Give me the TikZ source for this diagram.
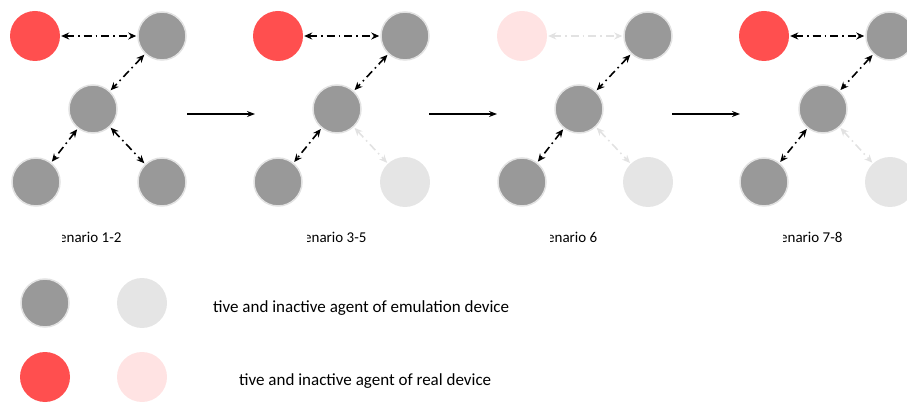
\documentclass[tikz,border=0pt]{standalone}
\usepackage{fontspec}
\setmainfont{Carlito}
\usetikzlibrary{arrows.meta}
\definecolor{emugray}{HTML}{999999}
\definecolor{ringgray}{HTML}{E2E2E2}
\definecolor{offgray}{HTML}{E5E5E5}
\definecolor{realred}{HTML}{FF4F4F}
\definecolor{offred}{HTML}{FFE3E3}
\tikzset{
    emu/.style={circle,fill=emugray,draw=ringgray,line width=1.5pt,minimum size=48pt,inner sep=0pt},
    emuoff/.style={circle,fill=offgray,minimum size=50pt,inner sep=0pt},
    real/.style={circle,fill=realred,minimum size=50pt,inner sep=0pt},
    realoff/.style={circle,fill=offred,minimum size=50pt,inner sep=0pt},
    link/.style={{Stealth[length=8pt,width=7pt]}-{Stealth[length=8pt,width=7pt]},line width=1.6pt,
        dash pattern=on 8pt off 4pt on 1.6pt off 4pt,shorten >=1pt,shorten <=1pt},
    linkoff/.style={link,draw=ringgray},
    step arrow/.style={-{Stealth[length=8pt,width=6pt]},line width=1.3pt},
    lbl/.style={font=\fontsize{15}{17}\selectfont,inner sep=0pt},
    legtext/.style={font=\fontsize{17}{20}\selectfont,inner sep=0pt}
}
\begin{document}
\begin{tikzpicture}[x=1pt,y=-1pt]
    \clip (0,0) rectangle (907,403);
    % scenario 1-2
    \node[real] (s1red) at (35,36) {};
    \node[emu] (s1top) at (162,36) {};
    \node[emu] (s1mid) at (93,109) {};
    \node[emu] (s1bl) at (36,182) {};
    \node[emu] (s1br) at (162,182) {};
    \draw[link] (s1red)--(s1top);
    \draw[link] (s1top)--(s1mid);
    \draw[link] (s1mid)--(s1bl);
    \draw[link] (s1mid)--(s1br);
    % scenario 3-5
    \node[real] (s2red) at (278,36) {};
    \node[emu] (s2top) at (405,36) {};
    \node[emu] (s2mid) at (337,109) {};
    \node[emu] (s2bl) at (278,182) {};
    \node[emuoff] (s2br) at (405,182) {};
    \draw[link] (s2red)--(s2top);
    \draw[link] (s2top)--(s2mid);
    \draw[link] (s2mid)--(s2bl);
    \draw[linkoff] (s2mid)--(s2br);
    % scenario 6
    \node[realoff] (s3red) at (522,36) {};
    \node[emu] (s3top) at (648,36) {};
    \node[emu] (s3mid) at (579,109) {};
    \node[emu] (s3bl) at (522,182) {};
    \node[emuoff] (s3br) at (648,182) {};
    \draw[linkoff] (s3red)--(s3top);
    \draw[link] (s3top)--(s3mid);
    \draw[link] (s3mid)--(s3bl);
    \draw[linkoff] (s3mid)--(s3br);
    % scenario 7-8
    \node[real] (s4red) at (764,36) {};
    \node[emu] (s4top) at (890,36) {};
    \node[emu] (s4mid) at (823,109) {};
    \node[emu] (s4bl) at (764,182) {};
    \node[emuoff] (s4br) at (890,182) {};
    \draw[link] (s4red)--(s4top);
    \draw[link] (s4top)--(s4mid);
    \draw[link] (s4mid)--(s4bl);
    \draw[linkoff] (s4mid)--(s4br);
    % arrows between scenarios
    \coordinate (a1s) at (187,114); \coordinate (a1e) at (255,114);
    \coordinate (a2s) at (429,114); \coordinate (a2e) at (497,114);
    \coordinate (a3s) at (672,114); \coordinate (a3e) at (740,114);
    \draw[step arrow] (a1s)--(a1e);
    \draw[step arrow] (a2s)--(a2e);
    \draw[step arrow] (a3s)--(a3e);
    % labels
    \begin{scope}
        \clip (62,220) rectangle (200,255) (307,220) rectangle (450,255)
              (550,220) rectangle (700,255) (783,220) rectangle (907,255);
        \node[lbl,anchor=base west] (lab1) at (59,243) {enario 1-2};
        \node[lbl,anchor=base west] (lab2) at (304,243) {enario 3-5};
        \node[lbl,anchor=base west] (lab3) at (547,243) {enario 6};
        \node[lbl,anchor=base west] (lab4) at (780,243) {enario 7-8};
    \end{scope}
    % legend
    \node[emu] (legemu) at (45,303) {};
    \node[emuoff] (legemuoff) at (142,303) {};
    \node[real] (legreal) at (45,377) {};
    \node[realoff] (legrealoff) at (142,377) {};
    \node[legtext,anchor=base west] (legtxt1) at (213,312) {tive and inactive agent of emulation device};
    \node[legtext,anchor=base west] (legtxt2) at (239,385) {tive and inactive agent of real device};
\end{tikzpicture}
\end{document}
